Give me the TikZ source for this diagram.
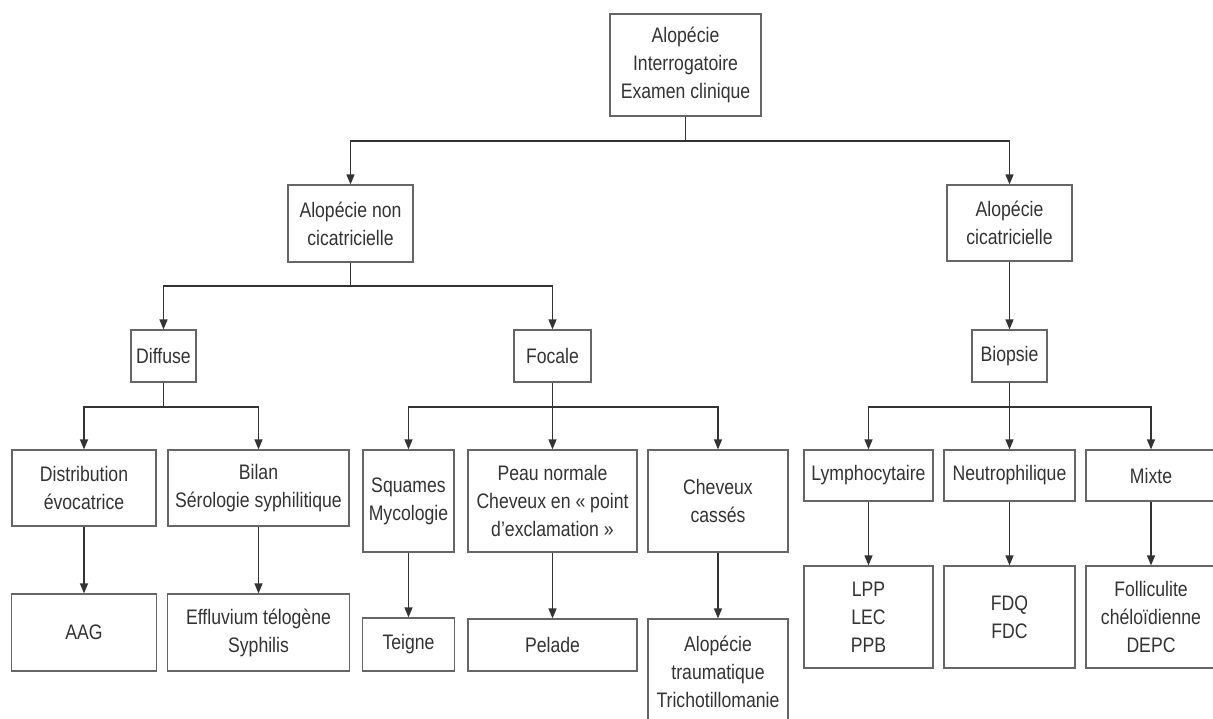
\documentclass[tikz,border=0pt]{standalone}
\usepackage{fontspec}
\setmainfont{Liberation Sans}[FakeStretch=0.84]
\usetikzlibrary{arrows.meta}
\begin{document}
\begin{tikzpicture}[x=1pt,y=-1pt,
  box/.style={draw=black!60, line width=1.2pt, align=center, inner sep=0pt,
    text=black!80, font=\fontsize{21}{28}\selectfont},
  conn/.style={draw=black!80, line width=1.4pt},
  arr/.style={conn, -{Triangle[width=8pt,length=10pt]}}]
\useasboundingbox (0,0) rectangle (1213,718);
% level 0
\node[box, minimum width=151pt, minimum height=102pt] (top) at (685.5,65) {Alopécie\\Interrogatoire\\Examen clinique};
% level 1
\node[box, minimum width=125pt, minimum height=77pt] (nonc) at (350.5,223.5) {Alopécie non\\cicatricielle};
\node[box, minimum width=125pt, minimum height=76pt] (cic) at (1009.5,223) {Alopécie\\cicatricielle};
% level 2
\node[box, minimum width=65pt, minimum height=52pt] (diffuse) at (163.5,356) {Diffuse};
\node[box, minimum width=77pt, minimum height=52pt] (focale) at (552.5,356) {Focale};
\node[box, minimum width=75pt, minimum height=52pt] (biopsie) at (1009.5,356) {Biopsie};
% level 3
\node[box, minimum width=144pt, minimum height=76pt] (dist) at (84,488) {Distribution\\évocatrice};
\node[box, minimum width=181pt, minimum height=76pt] (bilan) at (258.5,488) {Bilan\\Sérologie syphilitique};
\node[box, minimum width=91pt, minimum height=102pt] (squames) at (408.5,501) {Squames\\Mycologie};
\node[box, minimum width=169pt, minimum height=102pt] (peau) at (552.5,501) {Peau normale\\Cheveux en « point\\d’exclamation »};
\node[box, minimum width=140pt, minimum height=102pt] (chev) at (718,501) {Cheveux\\cassés};
\node[box, minimum width=129pt, minimum height=51pt] (lymph) at (868.5,475.5) {Lymphocytaire};
\node[box, minimum width=131pt, minimum height=51pt] (neutro) at (1009.5,475.5) {Neutrophilique};
\node[box, minimum width=130pt, minimum height=51pt] (mixte) at (1151,475.5) {Mixte};
% level 4
\node[box, minimum width=145pt, minimum height=77pt] (aag) at (84,632.5) {AAG};
\node[box, minimum width=182pt, minimum height=77pt] (effl) at (258.5,632.5) {Effluvium télogène\\Syphilis};
\node[box, minimum width=92pt, minimum height=53pt] (teigne) at (408.5,644.5) {Teigne};
\node[box, minimum width=169pt, minimum height=52pt] (pelade) at (552.5,645) {Pelade};
\node[box, minimum width=140pt, minimum height=106pt] (trauma) at (718,672) {Alopécie\\traumatique\\Trichotillomanie};
\node[box, minimum width=129pt, minimum height=102pt] (lpp) at (868.5,617) {LPP\\LEC\\PPB};
\node[box, minimum width=131pt, minimum height=102pt] (fdq) at (1009.5,617) {FDQ\\FDC};
\node[box, minimum width=130pt, minimum height=102pt] (foll) at (1151,617) {Folliculite\\chéloïdienne\\DEPC};
% junction levels
\coordinate (h1) at (0,141);
\coordinate (h2) at (0,286);
\coordinate (h3) at (0,407);
% connectors level 0 -> 1
\draw[conn] (top.south) -- (top.south |- h1);
\draw[arr] (top.south |- h1) -| (nonc.north);
\draw[arr] (top.south |- h1) -| (cic.north);
% level 1 -> 2
\draw[conn] (nonc.south) -- (nonc.south |- h2);
\draw[arr] (nonc.south |- h2) -| (diffuse.north);
\draw[arr] (nonc.south |- h2) -| (focale.north);
\draw[arr] (cic.south) -- (biopsie.north);
% level 2 -> 3
\draw[conn] (diffuse.south) -- (diffuse.south |- h3);
\draw[arr] (diffuse.south |- h3) -| (dist.north);
\draw[arr] (diffuse.south |- h3) -| (bilan.north);
\draw[arr] (focale.south) -- (peau.north);
\draw[arr] (focale.south |- h3) -| (squames.north);
\draw[arr] (focale.south |- h3) -| (chev.north);
\draw[arr] (biopsie.south) -- (neutro.north);
\draw[arr] (biopsie.south |- h3) -| (lymph.north);
\draw[arr] (biopsie.south |- h3) -| (mixte.north);
% level 3 -> 4
\draw[arr] (dist.south) -- (aag.north);
\draw[arr] (bilan.south) -- (effl.north);
\draw[arr] (squames.south) -- (teigne.north);
\draw[arr] (peau.south) -- (pelade.north);
\draw[arr] (chev.south) -- (trauma.north);
\draw[arr] (lymph.south) -- (lpp.north);
\draw[arr] (neutro.south) -- (fdq.north);
\draw[arr] (mixte.south) -- (foll.north);
\end{tikzpicture}
\end{document}
